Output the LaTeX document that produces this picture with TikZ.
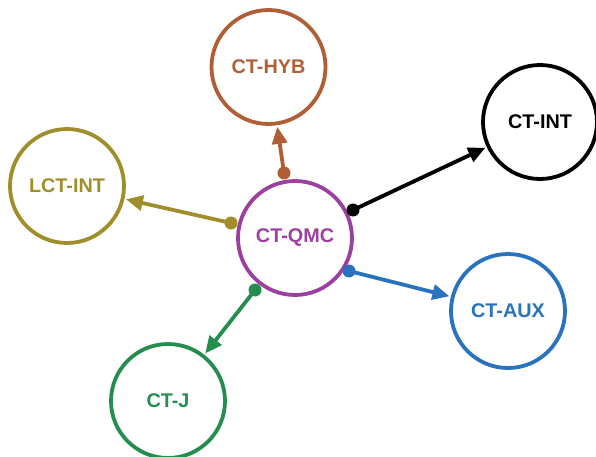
\documentclass[tikz,border=0pt]{standalone}
\usepackage{fontspec}
\setmainfont{Liberation Sans}
\usetikzlibrary{arrows.meta}
\definecolor{cqmc}{RGB}{155,63,160}
\definecolor{chyb}{RGB}{176,94,54}
\definecolor{cint}{RGB}{0,0,0}
\definecolor{clct}{RGB}{160,142,42}
\definecolor{caux}{RGB}{40,114,190}
\definecolor{cj}{RGB}{36,142,78}
\tikzset{
  bub/.style={circle, draw=#1, text=#1, line width=3.8pt, minimum size=114pt, inner sep=0pt,
    font=\fontsize{19.8}{22}\selectfont\bfseries},
  conn/.style={draw=#1, line width=3.8pt, -{Triangle[length=17pt,width=15pt]}, color=#1, shorten >=1.5pt}
}
\begin{document}
\begin{tikzpicture}[x=1pt,y=-1pt]
\useasboundingbox (0,0) rectangle (596,457);
\node[bub=cqmc] (qmc) at (295,238) {CT-QMC};
\node[bub=chyb] (hyb) at (268.5,67) {CT-HYB};
\node[bub=cint] (int) at (540,122) {CT-INT};
\node[bub=clct] (lct) at (67,186) {LCT-INT};
\node[bub=caux] (aux) at (508,311) {CT-AUX};
\node[bub=cj] (ctj) at (168,401) {CT-J};
\coordinate (dh) at (284,173);
\coordinate (di) at (353,210);
\coordinate (dl) at (231,223);
\coordinate (dj) at (255,290);
\coordinate (da) at (349,271);
\draw[conn=chyb] (dh) -- (hyb);
\draw[conn=cint] (di) -- (int);
\draw[conn=clct] (dl) -- (lct);
\draw[conn=cj] (dj) -- (ctj);
\draw[conn=caux] (da) -- (aux);
\fill[chyb] (dh) circle (6.5);
\fill[cint] (di) circle (6.5);
\fill[clct] (dl) circle (6.5);
\fill[cj] (dj) circle (6.5);
\fill[caux] (da) circle (6.5);
\end{tikzpicture}
\end{document}
